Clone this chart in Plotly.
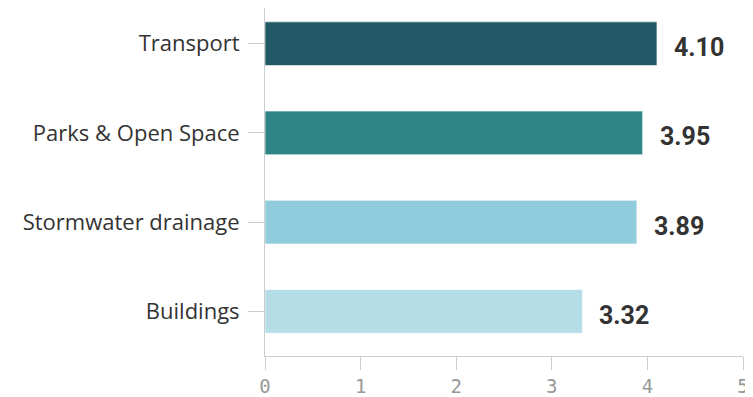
import plotly.graph_objects as go

categories = ["Buildings", "Stormwater drainage", "Parks & Open Space", "Transport"]
values = [3.32, 3.89, 3.95, 4.10]
value_labels = ["3.32", "3.89", "3.95", "4.10"]
colors = ["#b5dde8", "#90ccdb", "#2f8585", "#215a66"]
x_ticks = [0, 1, 2, 3, 4, 5]

fig = go.Figure(go.Bar(
    x=values, y=categories, orientation="h",
    marker=dict(color=colors, line=dict(color="rgba(255,255,255,0.6)", width=1)),
    width=0.49,
    cliponaxis=False,
))

for v, c, t in zip(values, categories, value_labels):
    fig.add_annotation(
        x=v, y=c, text=t, showarrow=False, xanchor="left", yanchor="middle",
        xshift=15, yshift=-4,
        font=dict(family="Roboto", size=25, color="#333333", weight="bold"),
    )

fig.update_layout(
    width=745, height=389,
    margin=dict(l=257, r=10, t=0, b=36),
    paper_bgcolor="white", plot_bgcolor="white",
    showlegend=False,
)
fig.update_xaxes(
    range=[0, 5], tickvals=x_ticks, ticks="outside", ticklen=13, tickcolor="#cccccc",
    showline=True, linecolor="#cccccc", linewidth=1, showgrid=False, zeroline=False,
    tickfont=dict(family="DejaVu Sans Mono", size=19, color="#999999"),
)
fig.update_yaxes(
    range=[-0.5, 3.4], ticks="outside", ticklen=16, tickcolor="#cccccc",
    showline=True, linecolor="#cccccc", linewidth=1, showgrid=False,
    ticklabelstandoff=4,
    tickfont=dict(family="Open Sans", size=22, color="#333333"),
)

fig.write_html("out.html")
